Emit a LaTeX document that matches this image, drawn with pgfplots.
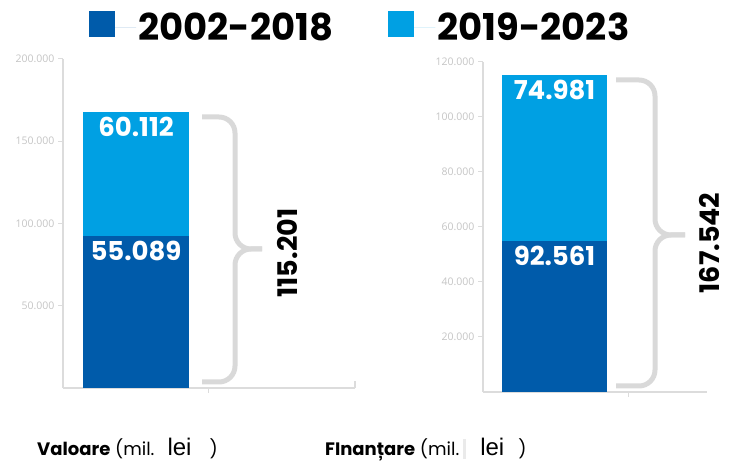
\documentclass[border=0pt]{standalone}
\usepackage{fontspec}
\setmainfont{Poppins}
\newfontfamily\tickfont{Open Sans}
\newfontfamily\leifont{Liberation Sans}
\usepackage{pgfplots}
\pgfplotsset{compat=1.18}
\definecolor{dblue}{HTML}{005BAA}
\definecolor{lblue}{HTML}{00A0E3}
\definecolor{axgray}{HTML}{DCDCDC}
\definecolor{tickgray}{HTML}{C4C4C4}
\definecolor{bracegray}{HTML}{D9D9D9}

\tikzset{val/.style={anchor=north, text=white, inner sep=0pt, yshift=-5pt,
    font=\fontsize{26}{30}\selectfont\bfseries}}
\pgfplotsset{
  panel/.style={
    scale only axis, ybar stacked,
    axis x line=bottom, axis y line=left,
    axis line style={axgray, line width=1.2pt, -},
    xmin=0, ymin=0,
    xtick={145}, xticklabels={},
    scaled y ticks=false,
    y tick label style={font=\tickfont\fontsize{10.5}{12}\selectfont, text=tickgray,
      /pgf/number format/.cd, fixed, precision=0, 1000 sep={.}, assume math mode=true},
    major tick length=5pt, tick style={axgray, line width=1pt}, tick align=outside,
    clip=false,
  },
  sq/.style={legend image code/.code={\path (0pt,0pt) -- (47pt,0pt);
    \fill[##1, draw=none] (0pt,-10pt) rectangle (26pt,16pt);}},
}

\begin{document}
\begin{tikzpicture}
\path (0pt,0pt) rectangle (729pt,463pt);

% left panel
\begin{axis}[panel, at={(63pt,75pt)}, anchor=south west,
  width=292pt, height=329pt, xmax=292, ymax=200000,
  ytick={50000,100000,150000,200000},
  bar width=106pt,
  legend style={draw=none, fill=none, at={(0.089,1.097)}, anchor=west,
    legend columns=2, inner sep=0pt,
    font=\fontsize{37}{40}\selectfont\bfseries,
    /tikz/every even column/.append style={column sep=53pt}},
  sq]
\addplot[fill=dblue, draw=none] coordinates {(73,92561)};
\addlegendentry{2002-2018}
\addplot[fill=lblue, draw=none] coordinates {(73,74981)};
\addlegendentry{2019-2023}
\draw[axgray, line width=1.2pt] (axis cs:292,0) -- (axis cs:292,4200);
\coordinate (a2) at (axis cs:73,167542);
\coordinate (a1) at (axis cs:73,92561);
\end{axis}

% right panel
\begin{axis}[panel, at={(483pt,71pt)}, anchor=south west,
  width=224pt, height=330pt, xmax=224, ymax=120000,
  ytick={20000,40000,60000,80000,100000,120000},
  bar width=105pt]
\addplot[fill=dblue, draw=none] coordinates {(71.5,55089)};
\addplot[fill=lblue, draw=none] coordinates {(71.5,60112)};
\coordinate (b2) at (axis cs:71.5,115201);
\coordinate (b1) at (axis cs:71.5,55089);
\end{axis}

% value labels as printed on the bars
\node[val] at (a2) {60.112};
\node[val] at (a1) {55.089};
\node[val] at (b2) {74.981};
\node[val] at (b1) {92.561};

% braces
\begin{scope}[x=1pt, y=1pt]
\draw[bracegray, line width=5pt, rounded corners=16pt]
  (202,346) -- (235,346) -- (235,214) -- (262,214);
\draw[bracegray, line width=5pt, rounded corners=16pt]
  (262,214) -- (235,214) -- (235,81) -- (202,81);
\draw[bracegray, line width=5pt, rounded corners=16pt]
  (616,383) -- (655,383) -- (655,228) -- (685,228);
\draw[bracegray, line width=5pt, rounded corners=16pt]
  (685,228) -- (655,228) -- (655,77) -- (616,77);

\node[rotate=90, font=\fontsize{27}{30}\selectfont\bfseries] at (288,210) {115.201};
\node[rotate=90, font=\fontsize{27}{30}\selectfont\bfseries] at (710,220) {167.542};

% bottom captions
\node[anchor=base west, inner sep=0pt, font=\fontsize{18}{22}\selectfont] at (37,7)
  {\bfseries Valoare\mdseries\ (mil.\hspace{13pt}{\leifont\fontsize{24}{28}\selectfont lei}\hspace{18pt})};
\node[anchor=base west, inner sep=0pt, font=\fontsize{18}{22}\selectfont] at (325,7)
  {\bfseries FInanțare\mdseries\ (mil.\hspace{4pt}\textcolor{axgray!60}{\rule[-3pt]{3pt}{20pt}}\hspace{14pt}{\leifont\fontsize{24}{28}\selectfont lei}\hspace{14pt})};
\end{scope}
\end{tikzpicture}
\end{document}
